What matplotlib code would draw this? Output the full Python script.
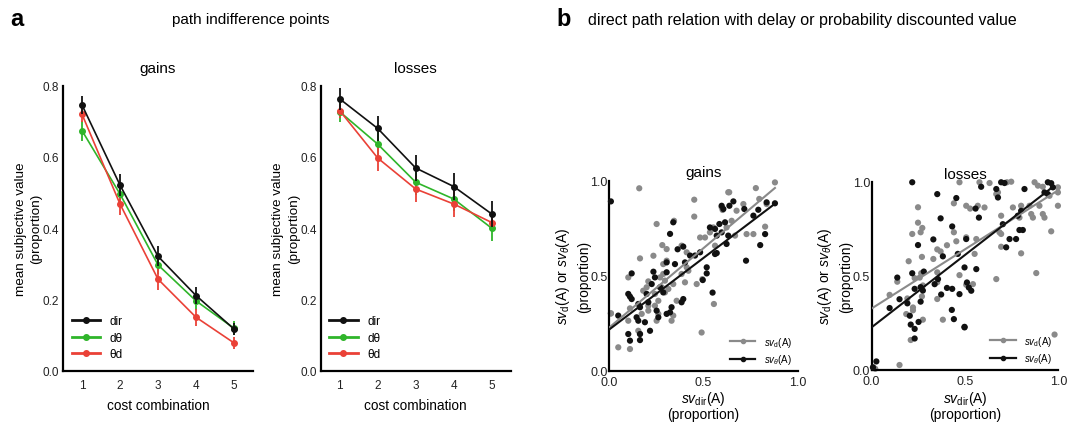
import numpy as np
import matplotlib
matplotlib.use("Agg")
import matplotlib.pyplot as plt
from matplotlib.lines import Line2D

plt.rcParams['font.family'] = ['Liberation Sans', 'DejaVu Sans']
plt.rcParams['mathtext.fontset'] = 'custom'
plt.rcParams['mathtext.rm'] = 'Liberation Sans'
plt.rcParams['mathtext.it'] = 'Liberation Sans:italic'
plt.rcParams['mathtext.bf'] = 'Liberation Sans:bold'

# ---------------- panel a data ----------------
cost = [1, 2, 3, 4, 5]
series_names = ['dir', 'dθ', 'θd']
gains_mean = {
    'dir': [0.746, 0.521, 0.321, 0.211, 0.117],
    'dθ':  [0.674, 0.496, 0.297, 0.196, 0.119],
    'θd':  [0.720, 0.468, 0.257, 0.150, 0.078],
}
gains_err = {
    'dir': [0.025, 0.030, 0.028, 0.024, 0.016],
    'dθ':  [0.028, 0.030, 0.026, 0.025, 0.020],
    'θd':  [0.022, 0.030, 0.030, 0.024, 0.016],
}
losses_mean = {
    'dir': [0.763, 0.680, 0.569, 0.517, 0.440],
    'dθ':  [0.727, 0.636, 0.529, 0.482, 0.400],
    'θd':  [0.730, 0.597, 0.510, 0.468, 0.416],
}
losses_err = {
    'dir': [0.030, 0.034, 0.037, 0.037, 0.037],
    'dθ':  [0.030, 0.035, 0.035, 0.035, 0.037],
    'θd':  [0.020, 0.036, 0.037, 0.037, 0.020],
}
colors_a = {'dir': '#111111', 'dθ': '#2fb52a', 'θd': '#ea4137'}
a_yticks = [0.0, 0.2, 0.4, 0.6, 0.8]

# ---------------- panel b data ----------------
gains_d_x = [0.01, 0.16, 0.252, 0.344, 0.451, 0.451, 0.482, 0.164, 0.235, 0.282, 0.305, 0.102,
             0.208, 0.27, 0.287, 0.296, 0.314, 0.34, 0.358, 0.384, 0.411, 0.42, 0.402, 0.464,
             0.494, 0.01, 0.111, 0.102, 0.173, 0.208, 0.155, 0.164, 0.111, 0.049, 0.243, 0.261,
             0.279, 0.296, 0.331, 0.34, 0.181, 0.199, 0.208, 0.243, 0.252, 0.261, 0.411, 0.384,
             0.305, 0.287, 0.49,
             0.878, 0.777, 0.631, 0.636, 0.834, 0.795, 0.711, 0.596, 0.601, 0.675, 0.649, 0.622,
             0.552, 0.534, 0.728, 0.764, 0.826, 0.667, 0.508, 0.561, 0.555]
gains_d_y = [0.30, 0.959, 0.771, 0.788, 0.899, 0.81, 0.70, 0.59, 0.604, 0.66, 0.639, 0.49,
             0.469, 0.49, 0.508, 0.473, 0.429, 0.455, 0.367, 0.508, 0.543, 0.525, 0.464, 0.455,
             0.481, 0.301, 0.327, 0.262, 0.298, 0.315, 0.209, 0.192, 0.113, 0.122, 0.341, 0.367,
             0.438, 0.411, 0.262, 0.289, 0.42, 0.438, 0.341, 0.403, 0.262, 0.298, 0.622, 0.657,
             0.578, 0.56, 0.20,
             0.99, 0.96, 0.938, 0.938, 0.876, 0.903, 0.876, 0.859, 0.845, 0.841, 0.788, 0.753,
             0.753, 0.727, 0.718, 0.718, 0.757, 0.71, 0.70, 0.657, 0.35]
gains_t_x = [0.01, 0.34, 0.323, 0.363, 0.393, 0.429, 0.455, 0.482, 0.12, 0.102, 0.111, 0.12,
             0.235, 0.243, 0.305, 0.305, 0.155, 0.164, 0.208, 0.146, 0.155, 0.102, 0.111, 0.164,
             0.164, 0.217, 0.252, 0.261, 0.305, 0.323, 0.331, 0.384, 0.393, 0.049, 0.19, 0.27,
             0.287, 0.226, 0.199, 0.349, 0.402,
             0.878, 0.79, 0.834, 0.658, 0.637, 0.596, 0.605, 0.764, 0.716, 0.614, 0.584, 0.561,
             0.534, 0.596, 0.57, 0.631, 0.826, 0.622, 0.80, 0.57, 0.561, 0.725, 0.517, 0.517,
             0.496, 0.548]
gains_t_y = [0.89, 0.78, 0.719, 0.638, 0.652, 0.605, 0.605, 0.622, 0.511, 0.403, 0.389, 0.376,
             0.52, 0.49, 0.569, 0.517, 0.35, 0.333, 0.359, 0.28, 0.262, 0.192, 0.157, 0.192,
             0.16, 0.209, 0.315, 0.28, 0.298, 0.306, 0.333, 0.359, 0.376, 0.289, 0.254, 0.438,
             0.411, 0.455, 0.403, 0.56, 0.569,
             0.88, 0.846, 0.885, 0.89, 0.867, 0.867, 0.85, 0.815, 0.85, 0.78, 0.771, 0.745,
             0.753, 0.727, 0.71, 0.71, 0.718, 0.666, 0.66, 0.618, 0.613, 0.578, 0.543, 0.511,
             0.476, 0.41]

losses_d_x = [0.471, 0.249, 0.249, 0.272, 0.263, 0.218, 0.507, 0.441, 0.441, 0.454, 0.404,
              0.352, 0.37, 0.27, 0.199, 0.331, 0.471, 0.266, 0.258, 0.231, 0.138, 0.352, 0.352,
              0.275, 0.097, 0.192, 0.222, 0.222, 0.27, 0.352, 0.186, 0.275, 0.382, 0.21, 0.15,
              0.008, 0.02, 0.507,
              0.578, 0.632, 0.725, 0.748, 0.873, 0.891, 0.917, 0.998, 0.998, 0.953, 0.668, 0.677,
              0.569, 0.605, 0.528, 0.757, 0.801, 0.846, 0.899, 0.998, 0.792, 0.855, 0.864, 0.917,
              0.926, 0.694, 0.685, 0.694, 0.507, 0.561, 0.962, 0.694, 0.801, 0.552, 0.882, 0.668,
              0.543, 0.98]
losses_d_y = [0.997, 0.864, 0.782, 0.754, 0.731, 0.722, 0.872, 0.885, 0.731, 0.683, 0.662,
              0.64, 0.629, 0.60, 0.577, 0.589, 0.503, 0.513, 0.49, 0.487, 0.468, 0.518, 0.465,
              0.448, 0.398, 0.379, 0.331, 0.316, 0.39, 0.376, 0.296, 0.266, 0.266, 0.158, 0.025,
              0.014, 0.005, 0.452,
              0.997, 0.993, 0.997, 1.0, 0.997, 0.979, 0.973, 0.97, 0.943, 0.925, 0.934, 0.943,
              0.872, 0.863, 0.857, 0.863, 0.872, 0.872, 0.872, 0.872, 0.809, 0.828, 0.809, 0.828,
              0.809, 0.819, 0.731, 0.722, 0.704, 0.695, 0.736, 0.654, 0.619, 0.616, 0.514, 0.482,
              0.455, 0.187]
losses_t_x = [0.218, 0.352, 0.454, 0.37, 0.432, 0.249, 0.331, 0.382, 0.462, 0.138, 0.218, 0.28,
              0.263, 0.275, 0.231, 0.15, 0.097, 0.192, 0.263, 0.356, 0.338, 0.373, 0.404, 0.432,
              0.471, 0.43, 0.441, 0.498, 0.205, 0.21, 0.231, 0.252, 0.231, 0.026, 0.008,
              0.694, 0.712, 0.819, 0.944, 0.962, 0.971, 0.587, 0.668, 0.677, 0.926, 0.944, 0.801,
              0.783, 0.557, 0.575, 0.703, 0.81, 0.792, 0.774, 0.739, 0.507, 0.721, 0.498, 0.561,
              0.511, 0.521, 0.534, 0.498]
losses_t_y = [0.997, 0.934, 0.913, 0.805, 0.762, 0.663, 0.693, 0.603, 0.616, 0.49, 0.513, 0.522,
              0.439, 0.421, 0.43, 0.375, 0.328, 0.353, 0.362, 0.482, 0.455, 0.40, 0.435, 0.43,
              0.402, 0.318, 0.269, 0.228, 0.287, 0.24, 0.217, 0.254, 0.166, 0.044, 0.012,
              0.997, 0.993, 0.961, 0.997, 0.992, 0.97, 0.973, 0.961, 0.916, 0.943, 0.934, 0.845,
              0.819, 0.857, 0.809, 0.774, 0.743, 0.743, 0.695, 0.695, 0.695, 0.651, 0.544, 0.535,
              0.464, 0.437, 0.42, 0.225]

# regression lines: (intercept, slope, x_end)
gains_fit_d = (0.225, 0.838, 0.878)
gains_fit_t = (0.215, 0.755, 0.878)
losses_fit_d = (0.325, 0.63, 0.98)
losses_fit_t = (0.225, 0.77, 0.975)
b_ticks = [0.0, 0.5, 1.0]
gray = '#8a8a8a'
black = '#111111'

W, H = 1079, 427
fig = plt.figure(figsize=(W / 100, H / 100), dpi=100)


def px_axes(l, r, top, bottom):
    return fig.add_axes([l / W, 1 - bottom / H, (r - l) / W, (bottom - top) / H])


def style(ax, pad_x, pad_y, size):
    for s in ['top', 'right']:
        ax.spines[s].set_visible(False)
    for s in ['left', 'bottom']:
        ax.spines[s].set_linewidth(1.6)
    ax.tick_params(axis='both', length=0, labelsize=size, colors='#222222')
    ax.tick_params(axis='x', pad=pad_x)
    ax.tick_params(axis='y', pad=pad_y)


def panel_a(ax, means, errs, title):
    for name in series_names:
        ax.errorbar(cost, means[name], yerr=errs[name], color=colors_a[name],
                    marker='o', ms=4, lw=1.2, elinewidth=1.3, capsize=0, zorder=3 if name == 'dir' else 2)
    ax.set_xlim(0.5, 5.5)
    ax.set_ylim(0, 0.8)
    ax.set_xticks(cost)
    ax.set_yticks(a_yticks)
    ax.set_yticklabels([f'{v:.1f}' for v in a_yticks])
    style(ax, 6, 3, 8.5)
    ax.set_title(title, fontsize=11, pad=10)
    ax.set_xlabel('cost combination', fontsize=9.8, labelpad=5)
    ax.set_ylabel('mean subjective value\n(proportion)', fontsize=9.7, labelpad=0, linespacing=1.4)
    handles = [Line2D([0], [0], color=colors_a[n], marker='o', ms=4, lw=2) for n in series_names]
    ax.legend(handles, series_names, loc='lower left', bbox_to_anchor=(0.02, 0.02), frameon=False,
              fontsize=8.5, handlelength=2.4, handletextpad=0.8, labelspacing=0.38, borderaxespad=0)


def panel_b(ax, dx, dy, tx, ty, fit_d, fit_t, title):
    ax.scatter(dx, dy, s=20, color=gray, edgecolors='none', zorder=2, clip_on=False)
    ax.scatter(tx, ty, s=20, color=black, edgecolors='none', zorder=3, clip_on=False)
    for (b0, b1, xe), c in [(fit_d, gray), (fit_t, black)]:
        xs = np.array([0.0, xe])
        ax.plot(xs, b0 + b1 * xs, color=c, lw=1.5, zorder=4)
    ax.set_xlim(0, 1)
    ax.set_ylim(0, 1)
    ax.set_xticks(b_ticks)
    ax.set_yticks(b_ticks)
    ax.set_xticklabels([f'{v:.1f}' for v in b_ticks])
    ax.set_yticklabels([f'{v:.1f}' for v in b_ticks])
    style(ax, 4, 1, 9)
    ax.set_title(title, fontsize=11, pad=3)
    ax.set_xlabel('$sv_{\\mathrm{dir}}$(A)\n(proportion)', fontsize=10, labelpad=1, linespacing=1.0)
    ax.set_ylabel('$sv_{\\mathrm{d}}$(A) or $sv_{\\theta}$(A)\n(proportion)', fontsize=10, labelpad=-0.5,
                  linespacing=1.45)
    handles = [Line2D([0], [0], color=gray, marker='o', ms=3, lw=1.6),
               Line2D([0], [0], color=black, marker='o', ms=3, lw=1.6)]
    ax.legend(handles, ['$sv_{\\mathrm{d}}$(A)', '$sv_{\\theta}$(A)'], loc='lower right',
              bbox_to_anchor=(0.99, 0.003), frameon=False, fontsize=7, handlelength=2.6,
              handletextpad=0.9, labelspacing=0.35, borderaxespad=0)


ax1 = px_axes(63, 253, 86.7, 371.7)
panel_a(ax1, gains_mean, gains_err, 'gains')
ax2 = px_axes(320.7, 510.7, 86.7, 371.7)
panel_a(ax2, losses_mean, losses_err, 'losses')
ax3 = px_axes(609, 798, 181.5, 371.5)
panel_b(ax3, gains_d_x, gains_d_y, gains_t_x, gains_t_y, gains_fit_d, gains_fit_t, 'gains')
ax4 = px_axes(871.5, 1058.3, 182.7, 370.7)
panel_b(ax4, losses_d_x, losses_d_y, losses_t_x, losses_t_y, losses_fit_d, losses_fit_t, 'losses')

fig.text(17 / W, 1 - 20 / H, 'a', fontsize=17, fontweight='bold', ha='center', va='center')
fig.text(251 / W, 1 - 20 / H, 'path indifference points', fontsize=11, ha='center', va='center')
fig.text(564 / W, 1 - 19 / H, 'b', fontsize=17, fontweight='bold', ha='center', va='center')
fig.text(588 / W, 1 - 20 / H, 'direct path relation with delay or probability discounted value',
         fontsize=11.5, ha='left', va='center')

fig.savefig('out.png', dpi=100)
